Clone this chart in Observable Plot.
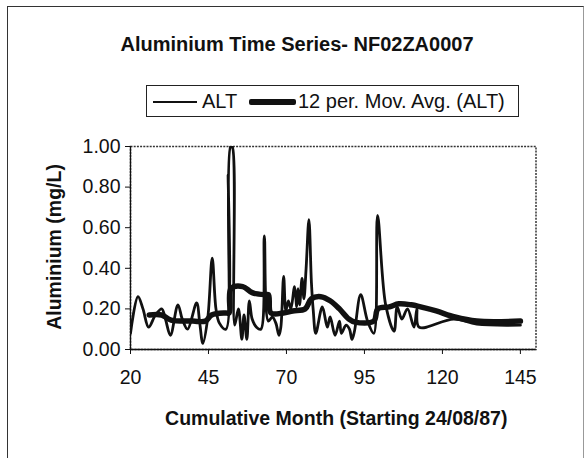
<!DOCTYPE html>
<html>
<head>
<meta charset="utf-8">
<script src="https://cdn.jsdelivr.net/npm/d3@7"></script>
<script src="https://cdn.jsdelivr.net/npm/@observablehq/plot@0.6"></script>
<style>
  html, body { margin: 0; padding: 0; background: #fff; }
  #chart { position: relative; width: 585px; height: 458px; overflow: hidden; font-family: "Liberation Sans", Arial, sans-serif; color: #111; }
  #outer { position: absolute; left: 7px; top: 6px; width: 575px; height: 470px; border-left: 1.5px solid #333; border-top: 1.5px solid #333; border-right: 1px solid #999; }
  #header { position: relative; height: 130px; }
  #title { position: absolute; left: 0; width: 594px; top: 33px; text-align: center; font-weight: bold; font-size: 20px; }
  #legend { position: absolute; left: 146px; top: 85px; width: 373px; height: 32px; border: 1.2px solid #222; box-sizing: border-box; font-size: 20px; }
  .sw { position: absolute; background: #111; }
  .lt { position: absolute; top: 3.5px; white-space: nowrap; }
  svg { display: block; }
</style>
</head>
<body>
<div id="chart">
  <div id="outer"></div>
  <div id="header">
    <div id="title">Aluminium Time Series- NF02ZA0007</div>
    <div id="legend">
      <div class="sw" style="left:6px;top:14.5px;width:44px;height:2.4px;"></div>
      <div class="lt" style="left:55px;">ALT</div>
      <div class="sw" style="left:102px;top:13px;width:47px;height:5.5px;border-radius:2px;"></div>
      <div class="lt" style="left:151px;">12 per. Mov. Avg. (ALT)</div>
    </div>
  </div>
  <div id="plot"></div>
</div>
<script>
// ALT series: cumulative month and aluminium (mg/L)
const altMonth = [20, 22.4, 24, 25.8, 28, 30, 31.2, 32.8, 35.2, 36.6, 38.3, 41.2, 42.2, 43.2, 44.8, 46.2, 47.4, 48.5, 50.6, 51.3, 51.7, 52.1, 52.6, 53.4, 54.6, 55.7, 56.4, 57.3, 58.1, 59, 60.4, 61.8, 62.9, 64.2, 65.5, 66.6, 67.6, 68.2, 69.1, 69.8, 70.6, 71.4, 72.6, 73.3, 73.7, 74.2, 75, 75.6, 76.3, 77.2, 78, 78.6, 79.4, 81.5, 83.1, 84, 85.6, 87, 87.6, 89.1, 90.2, 91, 91.8, 93.8, 96, 98, 99.2, 101.8, 104.5, 105.5, 107, 108.8, 110.9, 111.8, 112.5, 123.6, 131, 145];
const altValue = [0.08, 0.26, 0.20, 0.11, 0.17, 0.20, 0.15, 0.07, 0.22, 0.15, 0.10, 0.23, 0.13, 0.03, 0.16, 0.45, 0.20, 0.13, 0.10, 0.86, 0.25, 1.00, 1.00, 0.12, 0.20, 0.05, 0.17, 0.05, 0.24, 0.15, 0.11, 0.10, 0.56, 0.14, 0.16, 0.13, 0.07, 0.11, 0.36, 0.19, 0.24, 0.20, 0.31, 0.21, 0.30, 0.22, 0.35, 0.25, 0.40, 0.64, 0.33, 0.19, 0.08, 0.21, 0.11, 0.16, 0.07, 0.14, 0.08, 0.12, 0.10, 0.05, 0.09, 0.27, 0.14, 0.08, 0.66, 0.22, 0.09, 0.21, 0.15, 0.20, 0.11, 0.20, 0.11, 0.15, 0.125, 0.12];

// 12 per. Mov. Avg. (ALT)
const maMonth = [26, 30, 33, 40, 44, 46, 50.5, 51.6, 52.2, 56, 59, 63, 64.2, 65, 69, 72, 76, 78, 81, 84, 87, 90, 92, 98, 99.3, 103, 106, 110, 113, 118, 124, 131, 145];
const maValue = [0.17, 0.17, 0.145, 0.14, 0.14, 0.17, 0.18, 0.18, 0.30, 0.31, 0.28, 0.27, 0.27, 0.18, 0.18, 0.19, 0.20, 0.25, 0.26, 0.24, 0.20, 0.15, 0.135, 0.14, 0.20, 0.21, 0.225, 0.22, 0.21, 0.19, 0.16, 0.14, 0.14];

// Axis ticks
const xTicks = [20, 45, 70, 95, 120, 145];
const yTicks = [0, 0.2, 0.4, 0.6, 0.8, 1.0];

const alt = altMonth.map((m, i) => ({month: m, value: altValue[i]}));
const ma = maMonth.map((m, i) => ({month: m, value: maValue[i]}));

const chart = Plot.plot({
  width: 585,
  height: 328,
  marginLeft: 130,
  marginRight: 49.5,
  marginTop: 16,
  marginBottom: 109,
  style: {fontFamily: '"Liberation Sans", Arial, sans-serif', fontSize: "19.5px", color: "#111", background: "transparent", overflow: "visible"},
  x: {domain: [20, 150]},
  y: {domain: [0, 1]},
  marks: [
    Plot.frame({stroke: "#333", strokeDasharray: "2,1.2", strokeWidth: 1.5}),
    Plot.line(alt, {x: "month", y: "value", stroke: "#111", strokeWidth: 2.8, curve: "catmull-rom", clip: true}),
    Plot.line(ma, {x: "month", y: "value", stroke: "#111", strokeWidth: 5.5, curve: "catmull-rom", clip: true}),
    Plot.ruleY([0], {stroke: "#111", strokeWidth: 1.3}),
    Plot.ruleX([20], {stroke: "#111", strokeWidth: 1.3}),
    Plot.axisX({ticks: xTicks, tickSize: 5, tickPadding: 16, label: null, fontSize: 19.5}),
    Plot.axisY({ticks: yTicks, tickSize: 5, tickPadding: 5, tickFormat: d3.format(".2f"), label: null, fontSize: 19.5}),
    Plot.text(["Cumulative Month (Starting 24/08/87)"], {frameAnchor: "bottom", dy: 75, dx: 3, fontWeight: "bold", fontSize: 19.5, fill: "#111"}),
    Plot.text(["Aluminium (mg/L)"], {frameAnchor: "left", textAnchor: "middle", lineAnchor: "middle", dx: -76, dy: -1, rotate: -90, fontWeight: "bold", fontSize: 19.5, fill: "#111"})
  ]
});
document.getElementById("plot").appendChild(chart);
</script>
</body>
</html>
